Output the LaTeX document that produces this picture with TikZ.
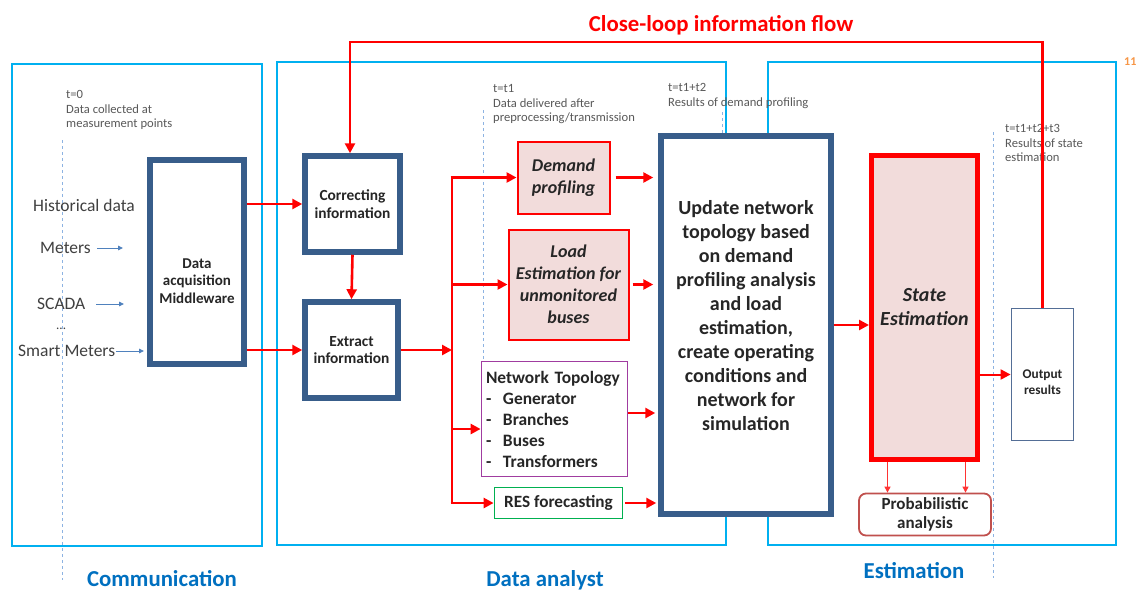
\documentclass[tikz,border=0pt]{standalone}
\usepackage{fontspec}
\setmainfont{Carlito}
\usetikzlibrary{arrows.meta,calc}
\definecolor{frameblue}{RGB}{0,176,240}
\definecolor{darkbox}{RGB}{56,93,138}
\definecolor{outbox}{RGB}{84,110,150}
\definecolor{labblue}{RGB}{0,112,192}
\definecolor{pinkfill}{RGB}{242,220,219}
\definecolor{dashblue}{RGB}{141,179,226}
\definecolor{graytxt}{RGB}{89,89,89}
\definecolor{inputtxt}{RGB}{64,64,64}
\definecolor{purplebox}{RGB}{160,60,160}
\definecolor{greenbox}{RGB}{0,176,80}
\definecolor{probred}{RGB}{192,80,77}
\definecolor{arrblue}{RGB}{79,129,189}
\definecolor{orangetxt}{RGB}{247,150,70}
\newcommand{\fsz}[2]{\fontsize{#1}{#2}\selectfont}
\tikzset{
  frame/.style={draw=frameblue, line width=2.2pt},
  dashline/.style={draw=dashblue, line width=0.9pt, dash pattern=on 3pt off 3pt},
  darkbx/.style={draw=darkbox, line width=5.5pt, fill=white, inner sep=0pt, align=center, text=black!85},
  pinkbx/.style={draw=red, line width=2pt, fill=pinkfill, inner sep=0pt, align=center, text=black!85, font=\fsz{18}{22}\bfseries\itshape},
  thinbx/.style={line width=1.8pt, fill=white, inner sep=0pt, align=center, text=black!85},
  plain/.style={inner sep=0pt, align=center, text=black!85},
  redarr/.style={draw=red, line width=2.6pt, -{Triangle[length=10pt,width=10pt]}},
  redline/.style={draw=red, line width=2.6pt},
  thinred/.style={draw=red!80, line width=1pt, -{Triangle[length=6pt,width=6pt]}},
  bluearr/.style={draw=arrblue, line width=0.9pt, -{Triangle[length=5pt,width=4.5pt]}},
  note/.style={anchor=north west, inner sep=0pt, align=left, text=graytxt, font=\fsz{12.6}{14.8}},
  inp/.style={anchor=west, inner sep=0pt, text=inputtxt, font=\fsz{17.5}{20}},
  steplabel/.style={anchor=base, inner sep=0pt, text=labblue, font=\fsz{22.8}{26}\bfseries}
}
\begin{document}
\begin{tikzpicture}[x=1pt,y=-1pt]
\useasboundingbox[fill=white] (0,0) rectangle (1137,590);

% frames
\draw[frame] (12,64) rectangle (262,546);
\draw[frame] (277,62) rectangle (726,545);
\draw[frame] (768,62) rectangle (1116,545);
\node[anchor=west, inner sep=0pt, text=orangetxt, font=\fsz{12}{14}\bfseries] (eleven) at (1124,62) {11};

% dashed time lines
\draw[dashline] (62,140) -- (62,580);
\draw[dashline] (483,110) -- (483,470);
\draw[dashline] (722,112) -- (722,133);
\draw[dashline] (993,132) -- (993,578);

% notes
\node[note] (n0) at (66,90) {t=0\\Data collected at\\measurement points};
\node[note] (n1) at (493,84) {t=t1\\Data delivered after\\preprocessing/transmission};
\node[note] (n2) at (668,83) {t=t1+t2\\Results of demand profiling};
\node[note] (n3) at (1005,124) {t=t1+t2+t3\\Results of state\\estimation};

% title
\node[inner sep=0pt, text=red, font=\fsz{22.8}{26}\bfseries] (title) at (721,25) {Close-loop information flow};

% bottom labels
\node[steplabel] (lcom) at (162,586) {Communication};
\node[steplabel] (lda) at (545,586) {Data analyst};
\node[steplabel] (lest) at (914,578) {Estimation};

% inputs
\node[inp] (hist) at (33,205) {Historical data};
\node[inp] (met) at (40,248) {Meters};
\node[inp] (scada) at (37,304) {SCADA};
\node[inp, font=\fsz{13}{15}] (dots) at (56,329) {...};
\node[inp] (smart) at (18,351) {Smart Meters};
\coordinate (metA) at (97,248);  \coordinate (metB) at (123,248);
\coordinate (scA) at (96,304);   \coordinate (scB) at (124,304);
\coordinate (smA) at (116,351);  \coordinate (smB) at (144,351);
\draw[bluearr] (metA) -- (metB);
\draw[bluearr] (scA) -- (scB);
\draw[bluearr] (smA) -- (smB);

% boxes
\node[darkbx, minimum width=94pt, minimum height=204pt] (mid) at (197,262) {};
\node[plain, font=\fsz{15}{17.5}\bfseries] (midt) at (197,281) {Data\\acquisition\\Middleware};
\node[darkbx, minimum width=95pt, minimum height=96pt, font=\fsz{15.4}{17.5}\bfseries] (corr) at (352.5,204) {Correcting\\information};
\node[darkbx, minimum width=93pt, minimum height=96pt, font=\fsz{15.4}{17.5}\bfseries] (ext) at (351.5,350) {Extract\\information};

\node[pinkbx, minimum width=92pt, minimum height=72pt] (dem) at (563.5,177.5) {Demand\\profiling};
\node[pinkbx, minimum width=120pt, minimum height=110pt] (load) at (568.5,284.5) {Load\\Estimation for\\unmonitored\\buses};
\node[thinbx, draw=purplebox, minimum width=146pt, minimum height=115pt, text width=137pt, align=left, font=\fsz{17.4}{21}\bfseries] (net) at (554.5,419)
  {Network Topology\\\makebox[17pt][l]{-}Generator\\\makebox[17pt][l]{-}Branches\\\makebox[17pt][l]{-}Buses\\\makebox[17pt][l]{-}Transformers};
\node[thinbx, draw=greenbox, minimum width=128pt, minimum height=31pt, font=\fsz{17.2}{19}\bfseries] (res) at (558.5,503) {RES forecasting};

\node[darkbx, minimum width=170pt, minimum height=378pt] (upd) at (746,325) {};
\node[plain, font=\fsz{20}{24}\bfseries] (updt) at (746,316) {Update network\\topology based\\on demand\\profiling analysis\\and load\\estimation,\\create operating\\conditions and\\network for\\simulation};

\node[draw=red, line width=5pt, fill=pinkfill, inner sep=0pt, align=center, text=black!85, minimum width=106pt, minimum height=304pt, font=\fsz{20}{24}\bfseries\itshape] (se) at (924.5,307.5) {State\\Estimation};
\node[thinbx, draw=outbox, minimum width=62pt, minimum height=132pt] (out) at (1042.5,374.5) {};
\node[plain, font=\fsz{13.3}{16}\bfseries] (outt) at (1042.5,382) {Output\\results};
\node[thinbx, draw=probred, rounded corners=7pt, minimum width=132pt, minimum height=42pt, font=\fsz{17}{19.5}\bfseries] (prob) at (925,514.5) {Probabilistic\\analysis};

% connectors
\draw[redarr] (mid.east |- corr.west) -- (corr.west);
\draw[redarr] (mid.east |- ext.west) -- (ext.west);
\draw[redarr] (corr.south) -- (ext.north);

\coordinate (tj) at (452,350);
\coordinate (ttop) at (452,177.5);
\coordinate (tbot) at (452,503);
\draw[redarr] (ext.east) -- (tj);
\draw[redline] (ttop) -- (tbot);
\draw[redarr] ([xshift=-1.3pt]ttop) -- (dem.west);
\draw[redarr] (ttop |- load.west) -- (load.west);
\draw[redarr] ($(ttop |- net.west)+(0,10)$) -- ($(net.west)+(0,10)$);
\draw[redarr] ([xshift=-1.3pt]tbot) -- (res.west);

\draw[redarr, shorten <=5pt, shorten >=5pt] (dem.east) -- (upd.west |- dem.east);
\draw[redarr, shorten <=3pt, shorten >=5pt] (load.east) -- (upd.west |- load.east);
\draw[redarr, shorten >=3pt] ($(net.east)+(0,-6)$) -- ($(upd.west |- net.east)+(0,-6)$);
\draw[redarr, shorten <=2pt, shorten >=2pt] (res.east) -- (upd.west |- res.east);

\draw[redarr] (upd.east) -- (se.west |- upd.east);
\draw[redarr, line width=2pt] (se.east |- out.west) -- (out.west);

\coordinate (loopR) at (1042.5,42);
\coordinate (loopL) at (350,42);
\draw[redline, -{Triangle[length=10pt,width=10pt]}] (out.north) -- (loopR) -- (loopL) -- (loopL |- corr.north);

\draw[thinred] ([xshift=-37pt]se.south) -- ([xshift=-37pt]se.south |- prob.north);
\draw[thinred] ([xshift=41pt]se.south) -- ([xshift=41pt]se.south |- prob.north);
\end{tikzpicture}
\end{document}
